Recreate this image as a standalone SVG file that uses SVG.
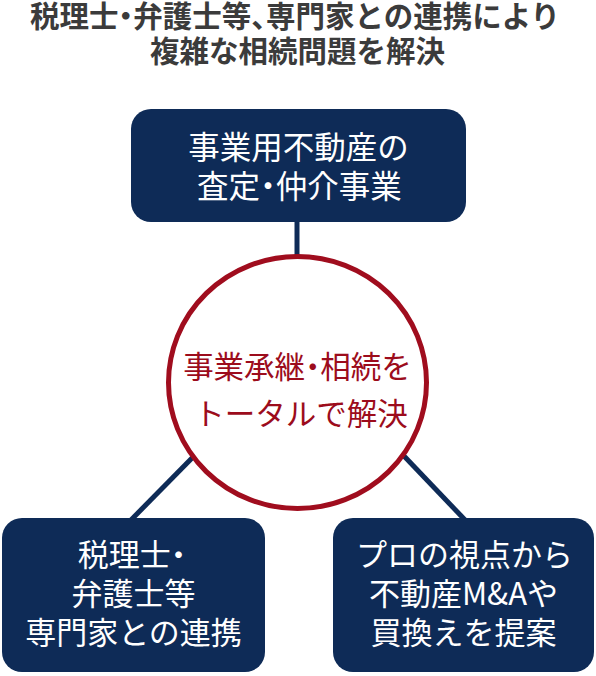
<svg xmlns="http://www.w3.org/2000/svg" width="596" height="676" viewBox="0 0 596 676">
  <style>
    .title { font-family: "Noto Sans CJK JP", "Noto Sans", sans-serif; font-size: 29.5px; font-weight: bold; fill: #3b3b3b; text-anchor: middle; font-feature-settings: "halt"; }
    .box { fill: #0e2b57; }
    .boxtext { font-family: "Noto Sans CJK JP", "Noto Sans", sans-serif; font-size: 31px; fill: #ffffff; text-anchor: middle; font-feature-settings: "halt"; }
    .big { font-size: 31.5px; }
    .ctext { font-family: "Noto Sans CJK JP", "Noto Sans", sans-serif; font-size: 30.5px; fill: #9c0c1c; text-anchor: middle; font-feature-settings: "halt"; }
    .conn { stroke: #0e2b57; stroke-width: 5; fill: none; }
  </style>
  <rect width="596" height="676" fill="#ffffff"/>
  <g id="title">
    <text class="title" x="295" y="27">税理士・弁護士等、専門家との連携により</text>
    <text class="title" x="297.5" y="62">複雑な相続問題を解決</text>
  </g>
  <g id="connectors">
    <line class="conn" x1="297" y1="220" x2="297" y2="258"/>
    <line class="conn" x1="194" y1="456" x2="130" y2="521"/>
    <line class="conn" x1="404" y1="456" x2="466" y2="521"/>
  </g>
  <g id="node-top">
    <rect class="box" x="131" y="109" width="335" height="113" rx="20"/>
    <text class="boxtext big" x="298.5" y="159">事業用不動産の</text>
    <text class="boxtext big" x="299.5" y="198">査定・仲介事業</text>
  </g>
  <g id="node-center">
    <ellipse cx="297.5" cy="382.5" rx="129" ry="126" fill="#ffffff" stroke="#a00d1e" stroke-width="5"/>
    <text class="ctext" x="297.5" y="377.5">事業承継・相続を</text>
    <text class="ctext" x="301" y="424.5">トータルで解決</text>
  </g>
  <g id="node-left">
    <rect class="box" x="2" y="518" width="263" height="154" rx="20"/>
    <text class="boxtext" x="132" y="566">税理士・</text>
    <text class="boxtext" x="133.5" y="605">弁護士等</text>
    <text class="boxtext" x="133.5" y="644">専門家との連携</text>
  </g>
  <g id="node-right">
    <rect class="box" x="333" y="518" width="261" height="154" rx="20"/>
    <text class="boxtext" x="464.5" y="566">プロの視点から</text>
    <text class="boxtext" x="463.5" y="605">不動産M&amp;Aや</text>
    <text class="boxtext" x="463.5" y="644">買換えを提案</text>
  </g>
</svg>
